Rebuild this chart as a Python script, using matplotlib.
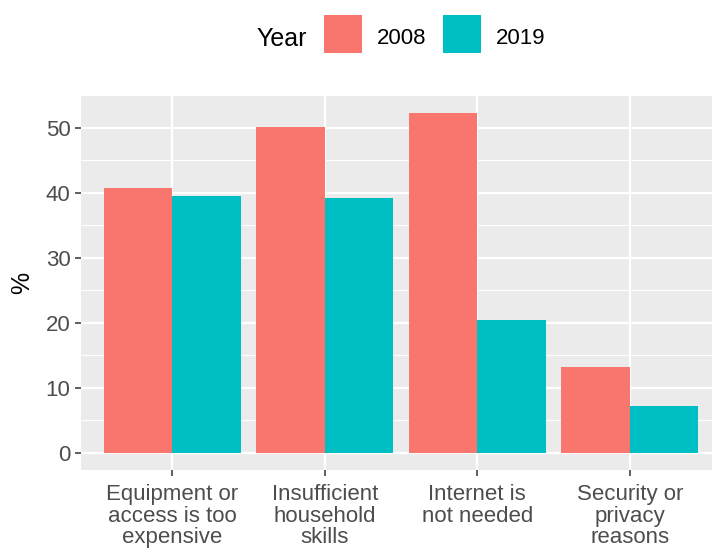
import matplotlib
matplotlib.use("Agg")
import matplotlib.pyplot as plt
import numpy as np
from matplotlib.patches import Rectangle

# data
categories = ["Equipment or\naccess is too\nexpensive",
              "Insufficient\nhousehold\nskills",
              "Internet is\nnot needed",
              "Security or\nprivacy\nreasons"]
years = ["2008", "2019"]
values_2008 = [40.7, 50.1, 52.2, 13.2]
values_2019 = [39.5, 39.2, 20.5, 7.2]
y_ticks = [0, 10, 20, 30, 40, 50]

col_2008 = "#F8766D"
col_2019 = "#00BFC4"
panel_bg = "#EBEBEB"

plt.rcParams['font.family'] = ['Liberation Sans', 'DejaVu Sans']

W, H = 712, 550
fig = plt.figure(figsize=(W / 100, H / 100), dpi=100)
# panel from x=81 to right edge (cropped), y=95 to 470
left, right, top, bottom = 81, 712, 95, 470
ax = fig.add_axes([left / W, 1 - bottom / H, (right - left) / W, (bottom - top) / H])
ax.set_facecolor(panel_bg)

x = np.arange(1, len(categories) + 1)
bw = 0.45
ax.bar(x - bw / 2, values_2008, width=bw, color=col_2008, zorder=3)
ax.bar(x + bw / 2, values_2019, width=bw, color=col_2019, zorder=3)

ymax = max(values_2008 + values_2019)
ax.set_ylim(-0.05 * ymax, ymax * 1.05)
ax.set_xlim(0.4, 4.54)

ax.set_yticks(y_ticks)
ax.set_yticks([5, 15, 25, 35, 45, 55], minor=True)
ax.set_xticks(x)
ax.set_xticklabels(categories, fontsize=16, color="#4D4D4D", linespacing=1.05)
ax.tick_params(axis='y', labelsize=16, labelcolor="#4D4D4D")
ax.tick_params(axis='both', which='major', length=4, width=1.1, color="#333333")
ax.tick_params(axis='x', which='major', pad=6)
ax.tick_params(axis='both', which='minor', length=0)

ax.grid(True, which='major', color='white', linewidth=1.6, zorder=0)
ax.grid(True, which='minor', axis='y', color='white', linewidth=0.8, zorder=0)
ax.set_axisbelow(True)
for s in ax.spines.values():
    s.set_visible(False)

ax.set_ylabel("%", fontsize=18, color="black", labelpad=8)

# legend on top, ggplot style: title on the left, keys in a row
key = 38
key_top = 15
fig.text(256 / W, 1 - 37 / H, "Year", fontsize=18, ha='left', va='center_baseline')
for kx, col, lab in [(324, col_2008, years[0]), (443, col_2019, years[1])]:
    fig.patches.append(Rectangle((kx / W, 1 - (key_top + key) / H), key / W, key / H,
                                 transform=fig.transFigure, facecolor=col,
                                 edgecolor='none'))
    fig.text((kx + key + 15) / W, 1 - (key_top + key / 2 + 2) / H, lab,
             fontsize=16, ha='left', va='center_baseline')

fig.savefig("out.png", dpi=100)
